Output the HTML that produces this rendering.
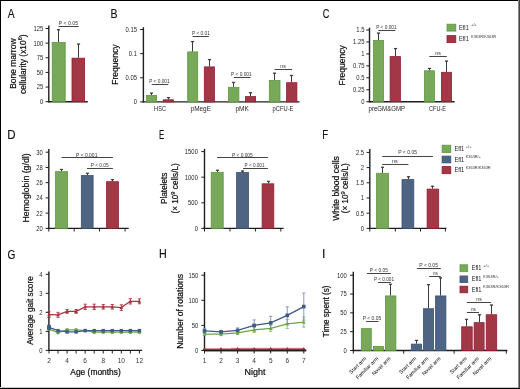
<!DOCTYPE html>
<html><head><meta charset="utf-8"><style>
html,body{margin:0;padding:0;background:#fff;}
body{width:520px;height:389px;overflow:hidden;position:relative;}
svg{display:block;will-change:transform;}
.b{position:absolute;}
</style></head><body>
<svg width="520" height="389" viewBox="0 0 520 389" font-family='"Liberation Sans", sans-serif'>
<rect x="0" y="0" width="520" height="389" fill="#fff"/>
<text transform="translate(7.78 18.00) scale(0.842 1)" font-size="12.2" fill="#111" stroke="#111" stroke-width="0.15">A</text>
<text transform="translate(110.44 18.00) scale(0.864 1)" font-size="12.2" fill="#111" stroke="#111" stroke-width="0.15">B</text>
<text transform="translate(322.63 18.00) scale(0.752 1)" font-size="12.2" fill="#111" stroke="#111" stroke-width="0.15">C</text>
<text transform="translate(7.36 139.10) scale(0.943 1)" font-size="12.2" fill="#111" stroke="#111" stroke-width="0.15">D</text>
<text transform="translate(159.05 139.10) scale(0.651 1)" font-size="12.2" fill="#111" stroke="#111" stroke-width="0.15">E</text>
<text transform="translate(322.31 139.20) scale(0.789 1)" font-size="12.2" fill="#111" stroke="#111" stroke-width="0.15">F</text>
<text transform="translate(7.59 258.50) scale(0.830 1)" font-size="12.2" fill="#111" stroke="#111" stroke-width="0.15">G</text>
<text transform="translate(159.02 258.30) scale(0.881 1)" font-size="12.2" fill="#111" stroke="#111" stroke-width="0.15">H</text>
<text transform="translate(321.98 258.30) scale(1.000 1)" font-size="12.2" fill="#111" stroke="#111" stroke-width="0.15">I</text>
<line x1="48.80" y1="25.40" x2="48.80" y2="102.30" stroke="#1e1e1e" stroke-width="1.4"/>
<line x1="45.60" y1="101.70" x2="48.80" y2="101.70" stroke="#1e1e1e" stroke-width="1"/>
<text x="43.20" y="104.11" font-size="6.7" text-anchor="end" textLength="3.26" lengthAdjust="spacingAndGlyphs" fill="#262626" >0</text>
<line x1="45.60" y1="87.06" x2="48.80" y2="87.06" stroke="#1e1e1e" stroke-width="1"/>
<text x="43.20" y="89.47" font-size="6.7" text-anchor="end" textLength="6.52" lengthAdjust="spacingAndGlyphs" fill="#262626" >25</text>
<line x1="45.60" y1="72.42" x2="48.80" y2="72.42" stroke="#1e1e1e" stroke-width="1"/>
<text x="43.20" y="74.83" font-size="6.7" text-anchor="end" textLength="6.52" lengthAdjust="spacingAndGlyphs" fill="#262626" >50</text>
<line x1="45.60" y1="57.78" x2="48.80" y2="57.78" stroke="#1e1e1e" stroke-width="1"/>
<text x="43.20" y="60.19" font-size="6.7" text-anchor="end" textLength="6.52" lengthAdjust="spacingAndGlyphs" fill="#262626" >75</text>
<line x1="45.60" y1="43.14" x2="48.80" y2="43.14" stroke="#1e1e1e" stroke-width="1"/>
<text x="43.20" y="45.55" font-size="6.7" text-anchor="end" textLength="9.78" lengthAdjust="spacingAndGlyphs" fill="#262626" >100</text>
<line x1="45.60" y1="28.50" x2="48.80" y2="28.50" stroke="#1e1e1e" stroke-width="1"/>
<text x="43.20" y="30.91" font-size="6.7" text-anchor="end" textLength="9.78" lengthAdjust="spacingAndGlyphs" fill="#262626" >125</text>
<line x1="48.10" y1="101.70" x2="87.80" y2="101.70" stroke="#1e1e1e" stroke-width="1.4"/>
<rect x="52.20" y="42.37" width="13.00" height="59.33" fill="#78a85a" stroke="#5e983e" stroke-width="0.8"/>
<line x1="58.50" y1="41.97" x2="58.50" y2="29.67" stroke="#3a3a3a" stroke-width="1.0"/>
<line x1="56.90" y1="29.67" x2="60.10" y2="29.67" stroke="#3a3a3a" stroke-width="1.1"/>
<path d="M57.10 29.67H59.90L58.50 31.17Z" fill="#3a3a3a"/>
<rect x="72.00" y="58.18" width="12.60" height="43.52" fill="#a23846" stroke="#8e1f33" stroke-width="0.8"/>
<line x1="78.50" y1="57.78" x2="78.50" y2="44.02" stroke="#3a3a3a" stroke-width="1.0"/>
<line x1="76.90" y1="44.02" x2="80.10" y2="44.02" stroke="#3a3a3a" stroke-width="1.1"/>
<path d="M77.10 44.02H79.90L78.50 45.52Z" fill="#3a3a3a"/>
<line x1="58.50" y1="26.50" x2="78.60" y2="26.50" stroke="#444" stroke-width="1.0"/>
<text x="58.80" y="25.10" font-size="5.2" textLength="19.30" lengthAdjust="spacingAndGlyphs" fill="#333" >P &lt; 0.05</text>
<text x="15.70" y="88.85" font-size="9.7" textLength="50.40" lengthAdjust="spacingAndGlyphs" transform="rotate(-90 15.70 88.85)" stroke="#222" stroke-width="0.22">Bone marrow</text>
<text x="25.80" y="94.05" font-size="9.7" textLength="59.60" lengthAdjust="spacingAndGlyphs" transform="rotate(-90 25.80 94.05)" stroke="#222" stroke-width="0.22">cellularity (x10<tspan font-size="6.2" dy="-3.4">6</tspan><tspan dy="3.4">)</tspan></text>
<line x1="143.40" y1="27.20" x2="143.40" y2="102.50" stroke="#1e1e1e" stroke-width="1.4"/>
<line x1="140.20" y1="101.90" x2="143.40" y2="101.90" stroke="#1e1e1e" stroke-width="1"/>
<text x="137.00" y="104.31" font-size="6.7" text-anchor="end" textLength="3.26" lengthAdjust="spacingAndGlyphs" fill="#262626" >0</text>
<line x1="140.20" y1="77.77" x2="143.40" y2="77.77" stroke="#1e1e1e" stroke-width="1"/>
<text x="137.00" y="80.18" font-size="6.7" text-anchor="end" textLength="11.41" lengthAdjust="spacingAndGlyphs" fill="#262626" >0.05</text>
<line x1="140.20" y1="53.63" x2="143.40" y2="53.63" stroke="#1e1e1e" stroke-width="1"/>
<text x="137.00" y="56.05" font-size="6.7" text-anchor="end" textLength="8.15" lengthAdjust="spacingAndGlyphs" fill="#262626" >0.1</text>
<line x1="140.20" y1="29.50" x2="143.40" y2="29.50" stroke="#1e1e1e" stroke-width="1"/>
<text x="137.00" y="31.91" font-size="6.7" text-anchor="end" textLength="11.41" lengthAdjust="spacingAndGlyphs" fill="#262626" >0.15</text>
<line x1="142.70" y1="101.90" x2="299.50" y2="101.90" stroke="#1e1e1e" stroke-width="1.4"/>
<rect x="146.60" y="95.40" width="10.00" height="6.50" fill="#78a85a" stroke="#5e983e" stroke-width="0.8"/>
<line x1="151.50" y1="95.00" x2="151.50" y2="93.00" stroke="#3a3a3a" stroke-width="1.0"/>
<line x1="150.00" y1="93.00" x2="153.00" y2="93.00" stroke="#3a3a3a" stroke-width="1.1"/>
<path d="M150.10 93.00H152.90L151.50 94.50Z" fill="#3a3a3a"/>
<rect x="163.20" y="99.80" width="10.30" height="2.10" fill="#a23846" stroke="#8e1f33" stroke-width="0.8"/>
<line x1="168.50" y1="99.40" x2="168.50" y2="97.60" stroke="#3a3a3a" stroke-width="1.0"/>
<line x1="166.90" y1="97.60" x2="170.10" y2="97.60" stroke="#3a3a3a" stroke-width="1.1"/>
<path d="M167.10 97.60H169.90L168.50 99.10Z" fill="#3a3a3a"/>
<line x1="151.70" y1="84.50" x2="168.30" y2="84.50" stroke="#444" stroke-width="1.0"/>
<text x="149.20" y="83.00" font-size="5.2" textLength="20.50" lengthAdjust="spacingAndGlyphs" fill="#333" >P &lt; 0.001</text>
<rect x="187.70" y="51.90" width="10.00" height="50.00" fill="#78a85a" stroke="#5e983e" stroke-width="0.8"/>
<line x1="192.50" y1="51.50" x2="192.50" y2="41.60" stroke="#3a3a3a" stroke-width="1.0"/>
<line x1="190.90" y1="41.60" x2="194.10" y2="41.60" stroke="#3a3a3a" stroke-width="1.1"/>
<path d="M191.10 41.60H193.90L192.50 43.10Z" fill="#3a3a3a"/>
<rect x="204.30" y="66.90" width="10.10" height="35.00" fill="#a23846" stroke="#8e1f33" stroke-width="0.8"/>
<line x1="209.50" y1="66.50" x2="209.50" y2="59.60" stroke="#3a3a3a" stroke-width="1.0"/>
<line x1="207.90" y1="59.60" x2="211.10" y2="59.60" stroke="#3a3a3a" stroke-width="1.1"/>
<path d="M208.10 59.60H210.90L209.50 61.10Z" fill="#3a3a3a"/>
<line x1="192.50" y1="36.50" x2="208.90" y2="36.50" stroke="#444" stroke-width="1.0"/>
<text x="192.00" y="35.00" font-size="5.2" textLength="17.90" lengthAdjust="spacingAndGlyphs" fill="#333" >P &lt; 0.01</text>
<rect x="228.40" y="87.30" width="10.50" height="14.60" fill="#78a85a" stroke="#5e983e" stroke-width="0.8"/>
<line x1="233.50" y1="86.90" x2="233.50" y2="82.30" stroke="#3a3a3a" stroke-width="1.0"/>
<line x1="231.90" y1="82.30" x2="235.10" y2="82.30" stroke="#3a3a3a" stroke-width="1.1"/>
<path d="M232.10 82.30H234.90L233.50 83.80Z" fill="#3a3a3a"/>
<rect x="245.50" y="96.60" width="10.10" height="5.30" fill="#a23846" stroke="#8e1f33" stroke-width="0.8"/>
<line x1="250.50" y1="96.20" x2="250.50" y2="92.70" stroke="#3a3a3a" stroke-width="1.0"/>
<line x1="248.90" y1="92.70" x2="252.10" y2="92.70" stroke="#3a3a3a" stroke-width="1.1"/>
<path d="M249.10 92.70H251.90L250.50 94.20Z" fill="#3a3a3a"/>
<line x1="233.80" y1="77.50" x2="250.50" y2="77.50" stroke="#444" stroke-width="1.0"/>
<text x="231.10" y="76.00" font-size="5.2" textLength="20.60" lengthAdjust="spacingAndGlyphs" fill="#333" >P &lt; 0.001</text>
<rect x="269.30" y="80.40" width="10.70" height="21.50" fill="#78a85a" stroke="#5e983e" stroke-width="0.8"/>
<line x1="274.50" y1="80.00" x2="274.50" y2="73.10" stroke="#3a3a3a" stroke-width="1.0"/>
<line x1="272.90" y1="73.10" x2="276.10" y2="73.10" stroke="#3a3a3a" stroke-width="1.1"/>
<path d="M273.10 73.10H275.90L274.50 74.60Z" fill="#3a3a3a"/>
<rect x="286.60" y="82.70" width="10.30" height="19.20" fill="#a23846" stroke="#8e1f33" stroke-width="0.8"/>
<line x1="291.50" y1="82.30" x2="291.50" y2="75.40" stroke="#3a3a3a" stroke-width="1.0"/>
<line x1="289.90" y1="75.40" x2="293.10" y2="75.40" stroke="#3a3a3a" stroke-width="1.1"/>
<path d="M290.10 75.40H292.90L291.50 76.90Z" fill="#3a3a3a"/>
<line x1="274.50" y1="69.50" x2="292.00" y2="69.50" stroke="#444" stroke-width="1.0"/>
<text x="280.20" y="68.30" font-size="5.2" textLength="5.60" lengthAdjust="spacingAndGlyphs" fill="#333" >ns</text>
<text x="154.10" y="111.30" font-size="7.0" textLength="11.90" lengthAdjust="spacingAndGlyphs" fill="#1e1e1e" >HSC</text>
<text x="190.60" y="111.30" font-size="7.0" textLength="20.40" lengthAdjust="spacingAndGlyphs" fill="#1e1e1e" >pMegE</text>
<text x="235.50" y="111.30" font-size="7.0" textLength="13.40" lengthAdjust="spacingAndGlyphs" fill="#1e1e1e" >pMK</text>
<text x="272.60" y="111.30" font-size="7.0" textLength="20.80" lengthAdjust="spacingAndGlyphs" fill="#1e1e1e" >pCFU-E</text>
<text x="118.30" y="84.75" font-size="9.6" textLength="40.30" lengthAdjust="spacingAndGlyphs" transform="rotate(-90 118.30 84.75)" stroke="#222" stroke-width="0.22">Frequency</text>
<line x1="369.50" y1="27.70" x2="369.50" y2="102.30" stroke="#1e1e1e" stroke-width="1.4"/>
<line x1="366.30" y1="101.70" x2="369.50" y2="101.70" stroke="#1e1e1e" stroke-width="1"/>
<text x="364.50" y="104.11" font-size="6.7" text-anchor="end" textLength="3.26" lengthAdjust="spacingAndGlyphs" fill="#262626" >0</text>
<line x1="366.30" y1="89.75" x2="369.50" y2="89.75" stroke="#1e1e1e" stroke-width="1"/>
<text x="364.50" y="92.16" font-size="6.7" text-anchor="end" textLength="11.41" lengthAdjust="spacingAndGlyphs" fill="#262626" >0.25</text>
<line x1="366.30" y1="77.80" x2="369.50" y2="77.80" stroke="#1e1e1e" stroke-width="1"/>
<text x="364.50" y="80.21" font-size="6.7" text-anchor="end" textLength="8.15" lengthAdjust="spacingAndGlyphs" fill="#262626" >0.5</text>
<line x1="366.30" y1="65.85" x2="369.50" y2="65.85" stroke="#1e1e1e" stroke-width="1"/>
<text x="364.50" y="68.26" font-size="6.7" text-anchor="end" textLength="11.41" lengthAdjust="spacingAndGlyphs" fill="#262626" >0.75</text>
<line x1="366.30" y1="53.90" x2="369.50" y2="53.90" stroke="#1e1e1e" stroke-width="1"/>
<text x="364.50" y="56.31" font-size="6.7" text-anchor="end" textLength="3.26" lengthAdjust="spacingAndGlyphs" fill="#262626" >1</text>
<line x1="366.30" y1="41.95" x2="369.50" y2="41.95" stroke="#1e1e1e" stroke-width="1"/>
<text x="364.50" y="44.36" font-size="6.7" text-anchor="end" textLength="11.41" lengthAdjust="spacingAndGlyphs" fill="#262626" >1.25</text>
<line x1="366.30" y1="30.00" x2="369.50" y2="30.00" stroke="#1e1e1e" stroke-width="1"/>
<text x="364.50" y="32.41" font-size="6.7" text-anchor="end" textLength="8.15" lengthAdjust="spacingAndGlyphs" fill="#262626" >1.5</text>
<line x1="368.80" y1="101.70" x2="454.60" y2="101.70" stroke="#1e1e1e" stroke-width="1.4"/>
<rect x="373.50" y="40.40" width="10.10" height="61.30" fill="#78a85a" stroke="#5e983e" stroke-width="0.8"/>
<line x1="378.50" y1="40.00" x2="378.50" y2="33.00" stroke="#3a3a3a" stroke-width="1.0"/>
<line x1="376.90" y1="33.00" x2="380.10" y2="33.00" stroke="#3a3a3a" stroke-width="1.1"/>
<path d="M377.10 33.00H379.90L378.50 34.50Z" fill="#3a3a3a"/>
<rect x="390.10" y="56.60" width="10.30" height="45.10" fill="#a23846" stroke="#8e1f33" stroke-width="0.8"/>
<line x1="395.50" y1="56.20" x2="395.50" y2="48.50" stroke="#3a3a3a" stroke-width="1.0"/>
<line x1="393.90" y1="48.50" x2="397.10" y2="48.50" stroke="#3a3a3a" stroke-width="1.1"/>
<path d="M394.10 48.50H396.90L395.50 50.00Z" fill="#3a3a3a"/>
<line x1="378.30" y1="30.50" x2="395.30" y2="30.50" stroke="#444" stroke-width="1.0"/>
<text x="376.20" y="28.50" font-size="5.2" textLength="20.50" lengthAdjust="spacingAndGlyphs" fill="#333" >P &lt; 0.001</text>
<rect x="424.40" y="70.80" width="10.00" height="30.90" fill="#78a85a" stroke="#5e983e" stroke-width="0.8"/>
<line x1="429.50" y1="70.40" x2="429.50" y2="68.40" stroke="#3a3a3a" stroke-width="1.0"/>
<line x1="427.90" y1="68.40" x2="431.10" y2="68.40" stroke="#3a3a3a" stroke-width="1.1"/>
<path d="M428.10 68.40H430.90L429.50 69.90Z" fill="#3a3a3a"/>
<rect x="441.40" y="72.30" width="10.10" height="29.40" fill="#a23846" stroke="#8e1f33" stroke-width="0.8"/>
<line x1="446.50" y1="71.90" x2="446.50" y2="61.00" stroke="#3a3a3a" stroke-width="1.0"/>
<line x1="444.90" y1="61.00" x2="448.10" y2="61.00" stroke="#3a3a3a" stroke-width="1.1"/>
<path d="M445.10 61.00H447.90L446.50 62.50Z" fill="#3a3a3a"/>
<line x1="429.30" y1="56.50" x2="446.80" y2="56.50" stroke="#444" stroke-width="1.0"/>
<text x="435.20" y="55.10" font-size="5.2" textLength="5.60" lengthAdjust="spacingAndGlyphs" fill="#333" >ns</text>
<text x="368.50" y="111.30" font-size="7.0" textLength="36.60" lengthAdjust="spacingAndGlyphs" fill="#1e1e1e" >preGM&amp;GMP</text>
<text x="429.00" y="111.30" font-size="7.0" textLength="17.00" lengthAdjust="spacingAndGlyphs" fill="#1e1e1e" >CFU-E</text>
<text x="345.40" y="85.45" font-size="9.6" textLength="40.20" lengthAdjust="spacingAndGlyphs" transform="rotate(-90 345.40 85.45)" stroke="#222" stroke-width="0.22">Frequency</text>
<rect x="447.00" y="24.20" width="8.80" height="6.90" fill="#78a85a" stroke="#5e983e" stroke-width="0.8"/>
<text x="459.00" y="29.50" font-size="7.0" textLength="9.80" lengthAdjust="spacingAndGlyphs" fill="#1a1a1a" >Efl1</text>
<text x="471.00" y="26.30" font-size="4.4" textLength="6.00" lengthAdjust="spacingAndGlyphs" fill="#3a3a3a" >+/+</text>
<rect x="447.00" y="35.60" width="8.80" height="7.00" fill="#a23846" stroke="#8e1f33" stroke-width="0.8"/>
<text x="459.00" y="40.60" font-size="7.0" textLength="9.80" lengthAdjust="spacingAndGlyphs" fill="#1a1a1a" >Efl1</text>
<text x="471.00" y="37.70" font-size="4.4" textLength="25.20" lengthAdjust="spacingAndGlyphs" fill="#3a3a3a" >K363R/K363R</text>
<line x1="48.80" y1="148.90" x2="48.80" y2="229.00" stroke="#1e1e1e" stroke-width="1.4"/>
<line x1="45.60" y1="228.40" x2="48.80" y2="228.40" stroke="#1e1e1e" stroke-width="1"/>
<text x="42.80" y="230.81" font-size="6.7" text-anchor="end" textLength="6.52" lengthAdjust="spacingAndGlyphs" fill="#262626" >20</text>
<line x1="45.60" y1="213.16" x2="48.80" y2="213.16" stroke="#1e1e1e" stroke-width="1"/>
<text x="42.80" y="215.57" font-size="6.7" text-anchor="end" textLength="6.52" lengthAdjust="spacingAndGlyphs" fill="#262626" >22</text>
<line x1="45.60" y1="197.92" x2="48.80" y2="197.92" stroke="#1e1e1e" stroke-width="1"/>
<text x="42.80" y="200.33" font-size="6.7" text-anchor="end" textLength="6.52" lengthAdjust="spacingAndGlyphs" fill="#262626" >24</text>
<line x1="45.60" y1="182.68" x2="48.80" y2="182.68" stroke="#1e1e1e" stroke-width="1"/>
<text x="42.80" y="185.09" font-size="6.7" text-anchor="end" textLength="6.52" lengthAdjust="spacingAndGlyphs" fill="#262626" >26</text>
<line x1="45.60" y1="167.44" x2="48.80" y2="167.44" stroke="#1e1e1e" stroke-width="1"/>
<text x="42.80" y="169.85" font-size="6.7" text-anchor="end" textLength="6.52" lengthAdjust="spacingAndGlyphs" fill="#262626" >28</text>
<line x1="45.60" y1="152.20" x2="48.80" y2="152.20" stroke="#1e1e1e" stroke-width="1"/>
<text x="42.80" y="154.61" font-size="6.7" text-anchor="end" textLength="6.52" lengthAdjust="spacingAndGlyphs" fill="#262626" >30</text>
<line x1="47.70" y1="228.40" x2="128.70" y2="228.40" stroke="#1e1e1e" stroke-width="1.4"/>
<line x1="48.80" y1="228.40" x2="48.80" y2="231.50" stroke="#1e1e1e" stroke-width="1.0"/>
<line x1="74.20" y1="228.40" x2="74.20" y2="231.50" stroke="#1e1e1e" stroke-width="1.0"/>
<line x1="99.60" y1="228.40" x2="99.60" y2="231.50" stroke="#1e1e1e" stroke-width="1.0"/>
<line x1="125.10" y1="228.40" x2="125.10" y2="231.50" stroke="#1e1e1e" stroke-width="1.0"/>
<rect x="55.50" y="171.70" width="12.10" height="56.70" fill="#78a85a" stroke="#5e983e" stroke-width="0.8"/>
<line x1="61.50" y1="171.30" x2="61.50" y2="169.40" stroke="#3a3a3a" stroke-width="1.0"/>
<line x1="59.90" y1="169.40" x2="63.10" y2="169.40" stroke="#3a3a3a" stroke-width="1.1"/>
<path d="M60.10 169.40H62.90L61.50 170.90Z" fill="#3a3a3a"/>
<rect x="81.30" y="175.50" width="11.80" height="52.90" fill="#4f6382" stroke="#3b5274" stroke-width="0.8"/>
<line x1="87.50" y1="175.10" x2="87.50" y2="173.20" stroke="#3a3a3a" stroke-width="1.0"/>
<line x1="85.90" y1="173.20" x2="89.10" y2="173.20" stroke="#3a3a3a" stroke-width="1.1"/>
<path d="M86.10 173.20H88.90L87.50 174.70Z" fill="#3a3a3a"/>
<rect x="106.60" y="181.70" width="11.80" height="46.70" fill="#a23846" stroke="#8e1f33" stroke-width="0.8"/>
<line x1="112.50" y1="181.30" x2="112.50" y2="179.60" stroke="#3a3a3a" stroke-width="1.0"/>
<line x1="110.90" y1="179.60" x2="114.10" y2="179.60" stroke="#3a3a3a" stroke-width="1.1"/>
<path d="M111.10 179.60H113.90L112.50 181.10Z" fill="#3a3a3a"/>
<line x1="61.60" y1="157.50" x2="112.90" y2="157.50" stroke="#444" stroke-width="1.0"/>
<text x="76.10" y="156.80" font-size="5.2" textLength="21.30" lengthAdjust="spacingAndGlyphs" fill="#333" >P &lt; 0.001</text>
<line x1="87.00" y1="168.50" x2="112.90" y2="168.50" stroke="#444" stroke-width="1.0"/>
<text x="90.70" y="167.10" font-size="5.2" textLength="18.00" lengthAdjust="spacingAndGlyphs" fill="#333" >P &lt; 0.05</text>
<line x1="204.50" y1="148.90" x2="204.50" y2="229.00" stroke="#1e1e1e" stroke-width="1.4"/>
<line x1="201.30" y1="228.40" x2="204.50" y2="228.40" stroke="#1e1e1e" stroke-width="1"/>
<text x="197.90" y="230.81" font-size="6.7" text-anchor="end" textLength="3.26" lengthAdjust="spacingAndGlyphs" fill="#262626" >0</text>
<line x1="201.30" y1="202.80" x2="204.50" y2="202.80" stroke="#1e1e1e" stroke-width="1"/>
<text x="197.90" y="205.21" font-size="6.7" text-anchor="end" textLength="9.78" lengthAdjust="spacingAndGlyphs" fill="#262626" >500</text>
<line x1="201.30" y1="177.20" x2="204.50" y2="177.20" stroke="#1e1e1e" stroke-width="1"/>
<text x="197.90" y="179.61" font-size="6.7" text-anchor="end" textLength="13.04" lengthAdjust="spacingAndGlyphs" fill="#262626" >1000</text>
<line x1="201.30" y1="151.60" x2="204.50" y2="151.60" stroke="#1e1e1e" stroke-width="1"/>
<text x="197.90" y="154.01" font-size="6.7" text-anchor="end" textLength="13.04" lengthAdjust="spacingAndGlyphs" fill="#262626" >1500</text>
<line x1="202.90" y1="228.40" x2="283.60" y2="228.40" stroke="#1e1e1e" stroke-width="1.4"/>
<line x1="204.50" y1="228.40" x2="204.50" y2="231.50" stroke="#1e1e1e" stroke-width="1.0"/>
<line x1="230.00" y1="228.40" x2="230.00" y2="231.50" stroke="#1e1e1e" stroke-width="1.0"/>
<line x1="255.40" y1="228.40" x2="255.40" y2="231.50" stroke="#1e1e1e" stroke-width="1.0"/>
<line x1="280.80" y1="228.40" x2="280.80" y2="231.50" stroke="#1e1e1e" stroke-width="1.0"/>
<rect x="211.20" y="172.30" width="12.00" height="56.10" fill="#78a85a" stroke="#5e983e" stroke-width="0.8"/>
<line x1="217.50" y1="171.90" x2="217.50" y2="170.20" stroke="#3a3a3a" stroke-width="1.0"/>
<line x1="215.90" y1="170.20" x2="219.10" y2="170.20" stroke="#3a3a3a" stroke-width="1.1"/>
<path d="M216.10 170.20H218.90L217.50 171.70Z" fill="#3a3a3a"/>
<rect x="236.60" y="172.50" width="11.90" height="55.90" fill="#4f6382" stroke="#3b5274" stroke-width="0.8"/>
<line x1="242.50" y1="172.10" x2="242.50" y2="170.90" stroke="#3a3a3a" stroke-width="1.0"/>
<line x1="240.90" y1="170.90" x2="244.10" y2="170.90" stroke="#3a3a3a" stroke-width="1.1"/>
<path d="M241.10 170.90H243.90L242.50 172.40Z" fill="#3a3a3a"/>
<rect x="262.10" y="183.80" width="11.70" height="44.60" fill="#a23846" stroke="#8e1f33" stroke-width="0.8"/>
<line x1="268.50" y1="183.40" x2="268.50" y2="181.30" stroke="#3a3a3a" stroke-width="1.0"/>
<line x1="266.90" y1="181.30" x2="270.10" y2="181.30" stroke="#3a3a3a" stroke-width="1.1"/>
<path d="M267.10 181.30H269.90L268.50 182.80Z" fill="#3a3a3a"/>
<line x1="217.10" y1="157.50" x2="267.90" y2="157.50" stroke="#444" stroke-width="1.0"/>
<text x="232.10" y="156.80" font-size="5.2" textLength="20.60" lengthAdjust="spacingAndGlyphs" fill="#333" >P &lt; 0.005</text>
<line x1="243.00" y1="168.50" x2="267.90" y2="168.50" stroke="#444" stroke-width="1.0"/>
<text x="244.60" y="166.90" font-size="5.2" textLength="19.90" lengthAdjust="spacingAndGlyphs" fill="#333" >P &lt; 0.001</text>
<line x1="369.80" y1="148.90" x2="369.80" y2="229.00" stroke="#1e1e1e" stroke-width="1.4"/>
<line x1="366.60" y1="228.40" x2="369.80" y2="228.40" stroke="#1e1e1e" stroke-width="1"/>
<text x="364.10" y="230.81" font-size="6.7" text-anchor="end" textLength="3.26" lengthAdjust="spacingAndGlyphs" fill="#262626" >0</text>
<line x1="366.60" y1="213.20" x2="369.80" y2="213.20" stroke="#1e1e1e" stroke-width="1"/>
<text x="364.10" y="215.61" font-size="6.7" text-anchor="end" textLength="8.15" lengthAdjust="spacingAndGlyphs" fill="#262626" >0.5</text>
<line x1="366.60" y1="198.00" x2="369.80" y2="198.00" stroke="#1e1e1e" stroke-width="1"/>
<text x="364.10" y="200.41" font-size="6.7" text-anchor="end" textLength="3.26" lengthAdjust="spacingAndGlyphs" fill="#262626" >1</text>
<line x1="366.60" y1="182.80" x2="369.80" y2="182.80" stroke="#1e1e1e" stroke-width="1"/>
<text x="364.10" y="185.21" font-size="6.7" text-anchor="end" textLength="8.15" lengthAdjust="spacingAndGlyphs" fill="#262626" >1.5</text>
<line x1="366.60" y1="167.60" x2="369.80" y2="167.60" stroke="#1e1e1e" stroke-width="1"/>
<text x="364.10" y="170.01" font-size="6.7" text-anchor="end" textLength="3.26" lengthAdjust="spacingAndGlyphs" fill="#262626" >2</text>
<line x1="366.60" y1="152.40" x2="369.80" y2="152.40" stroke="#1e1e1e" stroke-width="1"/>
<text x="364.10" y="154.81" font-size="6.7" text-anchor="end" textLength="8.15" lengthAdjust="spacingAndGlyphs" fill="#262626" >2.5</text>
<line x1="369.20" y1="228.40" x2="446.50" y2="228.40" stroke="#1e1e1e" stroke-width="1.4"/>
<line x1="369.80" y1="228.40" x2="369.80" y2="231.50" stroke="#1e1e1e" stroke-width="1.0"/>
<line x1="395.30" y1="228.40" x2="395.30" y2="231.50" stroke="#1e1e1e" stroke-width="1.0"/>
<line x1="420.50" y1="228.40" x2="420.50" y2="231.50" stroke="#1e1e1e" stroke-width="1.0"/>
<line x1="445.40" y1="228.40" x2="445.40" y2="231.50" stroke="#1e1e1e" stroke-width="1.0"/>
<rect x="376.60" y="173.30" width="11.90" height="55.10" fill="#78a85a" stroke="#5e983e" stroke-width="0.8"/>
<line x1="382.50" y1="172.90" x2="382.50" y2="167.20" stroke="#3a3a3a" stroke-width="1.0"/>
<line x1="381.00" y1="167.20" x2="384.00" y2="167.20" stroke="#3a3a3a" stroke-width="1.1"/>
<path d="M381.10 167.20H383.90L382.50 168.70Z" fill="#3a3a3a"/>
<rect x="402.00" y="179.60" width="11.80" height="48.80" fill="#4f6382" stroke="#3b5274" stroke-width="0.8"/>
<line x1="408.50" y1="179.20" x2="408.50" y2="176.70" stroke="#3a3a3a" stroke-width="1.0"/>
<line x1="406.90" y1="176.70" x2="410.10" y2="176.70" stroke="#3a3a3a" stroke-width="1.1"/>
<path d="M407.10 176.70H409.90L408.50 178.20Z" fill="#3a3a3a"/>
<rect x="427.10" y="189.10" width="11.60" height="39.30" fill="#a23846" stroke="#8e1f33" stroke-width="0.8"/>
<line x1="432.50" y1="188.70" x2="432.50" y2="186.20" stroke="#3a3a3a" stroke-width="1.0"/>
<line x1="430.90" y1="186.20" x2="434.10" y2="186.20" stroke="#3a3a3a" stroke-width="1.1"/>
<path d="M431.10 186.20H433.90L432.50 187.70Z" fill="#3a3a3a"/>
<line x1="382.30" y1="156.50" x2="432.90" y2="156.50" stroke="#444" stroke-width="1.0"/>
<text x="398.20" y="154.40" font-size="5.2" textLength="18.80" lengthAdjust="spacingAndGlyphs" fill="#333" >P &lt; 0.05</text>
<line x1="382.30" y1="164.50" x2="408.40" y2="164.50" stroke="#444" stroke-width="1.0"/>
<text x="392.10" y="163.40" font-size="5.2" textLength="5.70" lengthAdjust="spacingAndGlyphs" fill="#333" >ns</text>
<rect x="442.10" y="145.20" width="8.70" height="7.30" fill="#78a85a" stroke="#5e983e" stroke-width="0.8"/>
<text x="454.40" y="150.90" font-size="7.0" textLength="9.80" lengthAdjust="spacingAndGlyphs" fill="#1a1a1a" >Efl1</text>
<text x="465.70" y="147.70" font-size="4.4" textLength="6.00" lengthAdjust="spacingAndGlyphs" fill="#3a3a3a" >+/+</text>
<rect x="442.10" y="156.10" width="8.70" height="6.80" fill="#4f6382" stroke="#3b5274" stroke-width="0.8"/>
<text x="454.40" y="161.60" font-size="7.0" textLength="9.80" lengthAdjust="spacingAndGlyphs" fill="#1a1a1a" >Efl1</text>
<text x="465.70" y="158.40" font-size="4.4" textLength="15.30" lengthAdjust="spacingAndGlyphs" fill="#3a3a3a" >K363R/+</text>
<rect x="442.10" y="166.60" width="8.70" height="7.10" fill="#a23846" stroke="#8e1f33" stroke-width="0.8"/>
<text x="454.40" y="172.00" font-size="7.0" textLength="9.80" lengthAdjust="spacingAndGlyphs" fill="#1a1a1a" >Efl1</text>
<text x="465.70" y="168.70" font-size="4.4" textLength="25.00" lengthAdjust="spacingAndGlyphs" fill="#3a3a3a" >K363R/K363R</text>
<line x1="48.90" y1="271.60" x2="48.90" y2="351.00" stroke="#1e1e1e" stroke-width="1.4"/>
<line x1="45.70" y1="350.40" x2="48.90" y2="350.40" stroke="#1e1e1e" stroke-width="1"/>
<text x="42.50" y="352.81" font-size="6.7" text-anchor="end" textLength="3.26" lengthAdjust="spacingAndGlyphs" fill="#262626" >0</text>
<line x1="45.70" y1="331.38" x2="48.90" y2="331.38" stroke="#1e1e1e" stroke-width="1"/>
<text x="42.50" y="333.79" font-size="6.7" text-anchor="end" textLength="3.26" lengthAdjust="spacingAndGlyphs" fill="#262626" >1</text>
<line x1="45.70" y1="312.36" x2="48.90" y2="312.36" stroke="#1e1e1e" stroke-width="1"/>
<text x="42.50" y="314.77" font-size="6.7" text-anchor="end" textLength="3.26" lengthAdjust="spacingAndGlyphs" fill="#262626" >2</text>
<line x1="45.70" y1="293.34" x2="48.90" y2="293.34" stroke="#1e1e1e" stroke-width="1"/>
<text x="42.50" y="295.75" font-size="6.7" text-anchor="end" textLength="3.26" lengthAdjust="spacingAndGlyphs" fill="#262626" >3</text>
<line x1="45.70" y1="274.32" x2="48.90" y2="274.32" stroke="#1e1e1e" stroke-width="1"/>
<text x="42.50" y="276.73" font-size="6.7" text-anchor="end" textLength="3.26" lengthAdjust="spacingAndGlyphs" fill="#262626" >4</text>
<line x1="48.60" y1="350.40" x2="142.20" y2="350.40" stroke="#1e1e1e" stroke-width="1.4"/>
<line x1="49.00" y1="350.40" x2="49.00" y2="353.50" stroke="#1e1e1e" stroke-width="1.0"/>
<line x1="58.04" y1="350.40" x2="58.04" y2="353.50" stroke="#1e1e1e" stroke-width="1.0"/>
<line x1="67.08" y1="350.40" x2="67.08" y2="353.50" stroke="#1e1e1e" stroke-width="1.0"/>
<line x1="76.12" y1="350.40" x2="76.12" y2="353.50" stroke="#1e1e1e" stroke-width="1.0"/>
<line x1="85.16" y1="350.40" x2="85.16" y2="353.50" stroke="#1e1e1e" stroke-width="1.0"/>
<line x1="94.20" y1="350.40" x2="94.20" y2="353.50" stroke="#1e1e1e" stroke-width="1.0"/>
<line x1="103.24" y1="350.40" x2="103.24" y2="353.50" stroke="#1e1e1e" stroke-width="1.0"/>
<line x1="112.28" y1="350.40" x2="112.28" y2="353.50" stroke="#1e1e1e" stroke-width="1.0"/>
<line x1="121.32" y1="350.40" x2="121.32" y2="353.50" stroke="#1e1e1e" stroke-width="1.0"/>
<line x1="130.36" y1="350.40" x2="130.36" y2="353.50" stroke="#1e1e1e" stroke-width="1.0"/>
<line x1="139.40" y1="350.40" x2="139.40" y2="353.50" stroke="#1e1e1e" stroke-width="1.0"/>
<text x="49.00" y="362.50" font-size="6.5" text-anchor="middle" fill="#333" >2</text>
<text x="67.08" y="362.50" font-size="6.5" text-anchor="middle" fill="#333" >4</text>
<text x="85.16" y="362.50" font-size="6.5" text-anchor="middle" fill="#333" >6</text>
<text x="103.24" y="362.50" font-size="6.5" text-anchor="middle" fill="#333" >8</text>
<text x="121.32" y="362.50" font-size="6.5" text-anchor="middle" fill="#333" >10</text>
<text x="139.40" y="362.50" font-size="6.5" text-anchor="middle" fill="#333" >12</text>
<line x1="204.50" y1="272.00" x2="204.50" y2="351.10" stroke="#1e1e1e" stroke-width="1.4"/>
<line x1="201.30" y1="350.50" x2="204.50" y2="350.50" stroke="#1e1e1e" stroke-width="1"/>
<text x="198.30" y="352.91" font-size="6.7" text-anchor="end" textLength="3.26" lengthAdjust="spacingAndGlyphs" fill="#262626" >0</text>
<line x1="201.30" y1="325.40" x2="204.50" y2="325.40" stroke="#1e1e1e" stroke-width="1"/>
<text x="198.30" y="327.81" font-size="6.7" text-anchor="end" textLength="6.52" lengthAdjust="spacingAndGlyphs" fill="#262626" >50</text>
<line x1="201.30" y1="300.30" x2="204.50" y2="300.30" stroke="#1e1e1e" stroke-width="1"/>
<text x="198.30" y="302.71" font-size="6.7" text-anchor="end" textLength="9.78" lengthAdjust="spacingAndGlyphs" fill="#262626" >100</text>
<line x1="201.30" y1="275.20" x2="204.50" y2="275.20" stroke="#1e1e1e" stroke-width="1"/>
<text x="198.30" y="277.61" font-size="6.7" text-anchor="end" textLength="9.78" lengthAdjust="spacingAndGlyphs" fill="#262626" >150</text>
<line x1="204.00" y1="350.50" x2="306.20" y2="350.50" stroke="#1e1e1e" stroke-width="1.4"/>
<line x1="204.50" y1="350.50" x2="204.50" y2="353.50" stroke="#1e1e1e" stroke-width="1.0"/>
<text x="204.50" y="362.50" font-size="6.5" text-anchor="middle" fill="#333" >1</text>
<line x1="221.05" y1="350.50" x2="221.05" y2="353.50" stroke="#1e1e1e" stroke-width="1.0"/>
<text x="221.05" y="362.50" font-size="6.5" text-anchor="middle" fill="#333" >2</text>
<line x1="237.60" y1="350.50" x2="237.60" y2="353.50" stroke="#1e1e1e" stroke-width="1.0"/>
<text x="237.60" y="362.50" font-size="6.5" text-anchor="middle" fill="#333" >3</text>
<line x1="254.15" y1="350.50" x2="254.15" y2="353.50" stroke="#1e1e1e" stroke-width="1.0"/>
<text x="254.15" y="362.50" font-size="6.5" text-anchor="middle" fill="#333" >4</text>
<line x1="270.70" y1="350.50" x2="270.70" y2="353.50" stroke="#1e1e1e" stroke-width="1.0"/>
<text x="270.70" y="362.50" font-size="6.5" text-anchor="middle" fill="#333" >5</text>
<line x1="287.25" y1="350.50" x2="287.25" y2="353.50" stroke="#1e1e1e" stroke-width="1.0"/>
<text x="287.25" y="362.50" font-size="6.5" text-anchor="middle" fill="#333" >6</text>
<line x1="303.80" y1="350.50" x2="303.80" y2="353.50" stroke="#1e1e1e" stroke-width="1.0"/>
<text x="303.80" y="362.50" font-size="6.5" text-anchor="middle" fill="#333" >7</text>
<line x1="353.30" y1="271.70" x2="353.30" y2="351.10" stroke="#1e1e1e" stroke-width="1.4"/>
<line x1="350.10" y1="350.50" x2="353.30" y2="350.50" stroke="#1e1e1e" stroke-width="1"/>
<text x="346.80" y="352.91" font-size="6.7" text-anchor="end" textLength="3.26" lengthAdjust="spacingAndGlyphs" fill="#262626" >0</text>
<line x1="350.10" y1="331.68" x2="353.30" y2="331.68" stroke="#1e1e1e" stroke-width="1"/>
<text x="346.80" y="334.09" font-size="6.7" text-anchor="end" textLength="6.52" lengthAdjust="spacingAndGlyphs" fill="#262626" >25</text>
<line x1="350.10" y1="312.85" x2="353.30" y2="312.85" stroke="#1e1e1e" stroke-width="1"/>
<text x="346.80" y="315.26" font-size="6.7" text-anchor="end" textLength="6.52" lengthAdjust="spacingAndGlyphs" fill="#262626" >50</text>
<line x1="350.10" y1="294.02" x2="353.30" y2="294.02" stroke="#1e1e1e" stroke-width="1"/>
<text x="346.80" y="296.44" font-size="6.7" text-anchor="end" textLength="6.52" lengthAdjust="spacingAndGlyphs" fill="#262626" >75</text>
<line x1="350.10" y1="275.20" x2="353.30" y2="275.20" stroke="#1e1e1e" stroke-width="1"/>
<text x="346.80" y="277.61" font-size="6.7" text-anchor="end" textLength="9.78" lengthAdjust="spacingAndGlyphs" fill="#262626" >100</text>
<line x1="352.60" y1="350.50" x2="507.40" y2="350.50" stroke="#1e1e1e" stroke-width="1.4"/>
<line x1="353.30" y1="350.50" x2="353.30" y2="353.60" stroke="#1e1e1e" stroke-width="1.0"/>
<line x1="403.70" y1="350.50" x2="403.70" y2="353.60" stroke="#1e1e1e" stroke-width="1.0"/>
<line x1="454.10" y1="350.50" x2="454.10" y2="353.60" stroke="#1e1e1e" stroke-width="1.0"/>
<line x1="506.30" y1="350.50" x2="506.30" y2="353.60" stroke="#1e1e1e" stroke-width="1.0"/>
<text x="28.60" y="222.45" font-size="8.6" textLength="69.10" lengthAdjust="spacingAndGlyphs" transform="rotate(-90 28.60 222.45)" stroke="#222" stroke-width="0.22">Hemoglobin (g/dl)</text>
<text x="167.40" y="203.95" font-size="8.6" textLength="31.40" lengthAdjust="spacingAndGlyphs" transform="rotate(-90 167.40 203.95)" stroke="#222" stroke-width="0.22">Platelets</text>
<text x="177.90" y="213.55" font-size="8.6" textLength="50.30" lengthAdjust="spacingAndGlyphs" transform="rotate(-90 177.90 213.55)" stroke="#222" stroke-width="0.22">(&#215; 10<tspan font-size="6.0" dy="-3.3">9</tspan><tspan dy="3.3"> cells/L)</tspan></text>
<text x="338.80" y="220.85" font-size="8.6" textLength="64.70" lengthAdjust="spacingAndGlyphs" transform="rotate(-90 338.80 220.85)" stroke="#222" stroke-width="0.22">White blood cells</text>
<text x="348.30" y="213.25" font-size="8.6" textLength="50.00" lengthAdjust="spacingAndGlyphs" transform="rotate(-90 348.30 213.25)" stroke="#222" stroke-width="0.22">(&#215; 10<tspan font-size="6.0" dy="-3.3">9</tspan><tspan dy="3.3"> cells/L)</tspan></text>
<text x="33.40" y="344.85" font-size="8.6" textLength="68.60" lengthAdjust="spacingAndGlyphs" transform="rotate(-90 33.40 344.85)" stroke="#222" stroke-width="0.22">Average gait score</text>
<text x="182.60" y="348.85" font-size="8.6" textLength="74.90" lengthAdjust="spacingAndGlyphs" transform="rotate(-90 182.60 348.85)" stroke="#222" stroke-width="0.22">Number of rotations</text>
<text x="329.30" y="337.25" font-size="8.6" textLength="51.70" lengthAdjust="spacingAndGlyphs" transform="rotate(-90 329.30 337.25)" stroke="#222" stroke-width="0.22">Time spent (s)</text>
<text x="70.30" y="375.20" font-size="8.6" textLength="50.50" lengthAdjust="spacingAndGlyphs" stroke="#222" stroke-width="0.22">Age (months)</text>
<text x="244.60" y="374.80" font-size="8.6" textLength="20.80" lengthAdjust="spacingAndGlyphs" stroke="#222" stroke-width="0.22">Night</text>
<polyline points="49.00,329.10 58.04,332.52 67.08,329.86 76.12,329.86 85.16,330.62 94.20,332.14 103.24,332.14 112.28,332.14 121.32,332.14 130.36,332.14 139.40,332.14" fill="none" stroke="#6aa845" stroke-width="1.3"/>
<polyline points="49.00,327.39 58.04,330.62 67.08,331.95 76.12,331.95 85.16,330.62 94.20,330.62 103.24,330.62 112.28,330.62 121.32,330.62 130.36,330.62 139.40,330.62" fill="none" stroke="#3d5a88" stroke-width="1.3"/>
<circle cx="49.00" cy="329.10" r="1.9" fill="#6aa845"/>
<circle cx="58.04" cy="332.52" r="1.9" fill="#6aa845"/>
<circle cx="67.08" cy="329.86" r="1.9" fill="#6aa845"/>
<circle cx="76.12" cy="329.86" r="1.9" fill="#6aa845"/>
<circle cx="85.16" cy="330.62" r="1.9" fill="#6aa845"/>
<circle cx="94.20" cy="332.14" r="1.9" fill="#6aa845"/>
<circle cx="103.24" cy="332.14" r="1.9" fill="#6aa845"/>
<circle cx="112.28" cy="332.14" r="1.9" fill="#6aa845"/>
<circle cx="121.32" cy="332.14" r="1.9" fill="#6aa845"/>
<circle cx="130.36" cy="332.14" r="1.9" fill="#6aa845"/>
<circle cx="139.40" cy="332.14" r="1.9" fill="#6aa845"/>
<rect x="47.30" y="325.69" width="3.4" height="3.4" fill="#3d5a88"/>
<rect x="56.34" y="328.92" width="3.4" height="3.4" fill="#3d5a88"/>
<rect x="65.38" y="330.25" width="3.4" height="3.4" fill="#3d5a88"/>
<rect x="74.42" y="330.25" width="3.4" height="3.4" fill="#3d5a88"/>
<rect x="83.46" y="328.92" width="3.4" height="3.4" fill="#3d5a88"/>
<rect x="92.50" y="328.92" width="3.4" height="3.4" fill="#3d5a88"/>
<rect x="101.54" y="328.92" width="3.4" height="3.4" fill="#3d5a88"/>
<rect x="110.58" y="328.92" width="3.4" height="3.4" fill="#3d5a88"/>
<rect x="119.62" y="328.92" width="3.4" height="3.4" fill="#3d5a88"/>
<rect x="128.66" y="328.92" width="3.4" height="3.4" fill="#3d5a88"/>
<rect x="137.70" y="328.92" width="3.4" height="3.4" fill="#3d5a88"/>
<rect x="47.20" y="324.79" width="3.6" height="5.2" fill="#3d5a88"/>
<polyline points="49.00,314.64 58.04,314.83 67.08,311.41 76.12,311.41 85.16,306.84 94.20,306.84 103.24,306.84 112.28,306.84 121.32,307.60 130.36,301.33 139.40,301.33" fill="none" stroke="#a8323f" stroke-width="1.3"/>
<line x1="49.00" y1="311.79" x2="49.00" y2="317.49" stroke="#a8323f" stroke-width="0.9"/>
<line x1="47.40" y1="311.79" x2="50.60" y2="311.79" stroke="#a8323f" stroke-width="0.9"/>
<line x1="47.40" y1="317.49" x2="50.60" y2="317.49" stroke="#a8323f" stroke-width="0.9"/>
<path d="M47.20 316.14L50.80 316.14L49.00 312.84Z" fill="#a8323f"/>
<line x1="58.04" y1="312.36" x2="58.04" y2="317.30" stroke="#a8323f" stroke-width="0.9"/>
<line x1="56.44" y1="312.36" x2="59.64" y2="312.36" stroke="#a8323f" stroke-width="0.9"/>
<line x1="56.44" y1="317.30" x2="59.64" y2="317.30" stroke="#a8323f" stroke-width="0.9"/>
<path d="M56.24 316.33L59.84 316.33L58.04 313.03Z" fill="#a8323f"/>
<line x1="67.08" y1="309.51" x2="67.08" y2="313.31" stroke="#a8323f" stroke-width="0.9"/>
<line x1="65.48" y1="309.51" x2="68.68" y2="309.51" stroke="#a8323f" stroke-width="0.9"/>
<line x1="65.48" y1="313.31" x2="68.68" y2="313.31" stroke="#a8323f" stroke-width="0.9"/>
<path d="M65.28 312.91L68.88 312.91L67.08 309.61Z" fill="#a8323f"/>
<line x1="76.12" y1="309.51" x2="76.12" y2="313.31" stroke="#a8323f" stroke-width="0.9"/>
<line x1="74.52" y1="309.51" x2="77.72" y2="309.51" stroke="#a8323f" stroke-width="0.9"/>
<line x1="74.52" y1="313.31" x2="77.72" y2="313.31" stroke="#a8323f" stroke-width="0.9"/>
<path d="M74.32 312.91L77.92 312.91L76.12 309.61Z" fill="#a8323f"/>
<line x1="85.16" y1="304.18" x2="85.16" y2="309.50" stroke="#a8323f" stroke-width="0.9"/>
<line x1="83.56" y1="304.18" x2="86.76" y2="304.18" stroke="#a8323f" stroke-width="0.9"/>
<line x1="83.56" y1="309.50" x2="86.76" y2="309.50" stroke="#a8323f" stroke-width="0.9"/>
<path d="M83.36 308.34L86.96 308.34L85.16 305.04Z" fill="#a8323f"/>
<line x1="94.20" y1="304.18" x2="94.20" y2="309.50" stroke="#a8323f" stroke-width="0.9"/>
<line x1="92.60" y1="304.18" x2="95.80" y2="304.18" stroke="#a8323f" stroke-width="0.9"/>
<line x1="92.60" y1="309.50" x2="95.80" y2="309.50" stroke="#a8323f" stroke-width="0.9"/>
<path d="M92.40 308.34L96.00 308.34L94.20 305.04Z" fill="#a8323f"/>
<line x1="103.24" y1="304.56" x2="103.24" y2="309.12" stroke="#a8323f" stroke-width="0.9"/>
<line x1="101.64" y1="304.56" x2="104.84" y2="304.56" stroke="#a8323f" stroke-width="0.9"/>
<line x1="101.64" y1="309.12" x2="104.84" y2="309.12" stroke="#a8323f" stroke-width="0.9"/>
<path d="M101.44 308.34L105.04 308.34L103.24 305.04Z" fill="#a8323f"/>
<line x1="112.28" y1="304.56" x2="112.28" y2="309.12" stroke="#a8323f" stroke-width="0.9"/>
<line x1="110.68" y1="304.56" x2="113.88" y2="304.56" stroke="#a8323f" stroke-width="0.9"/>
<line x1="110.68" y1="309.12" x2="113.88" y2="309.12" stroke="#a8323f" stroke-width="0.9"/>
<path d="M110.48 308.34L114.08 308.34L112.28 305.04Z" fill="#a8323f"/>
<line x1="121.32" y1="304.75" x2="121.32" y2="310.45" stroke="#a8323f" stroke-width="0.9"/>
<line x1="119.72" y1="304.75" x2="122.92" y2="304.75" stroke="#a8323f" stroke-width="0.9"/>
<line x1="119.72" y1="310.45" x2="122.92" y2="310.45" stroke="#a8323f" stroke-width="0.9"/>
<path d="M119.52 309.10L123.12 309.10L121.32 305.80Z" fill="#a8323f"/>
<line x1="130.36" y1="298.67" x2="130.36" y2="303.99" stroke="#a8323f" stroke-width="0.9"/>
<line x1="128.76" y1="298.67" x2="131.96" y2="298.67" stroke="#a8323f" stroke-width="0.9"/>
<line x1="128.76" y1="303.99" x2="131.96" y2="303.99" stroke="#a8323f" stroke-width="0.9"/>
<path d="M128.56 302.83L132.16 302.83L130.36 299.53Z" fill="#a8323f"/>
<line x1="139.40" y1="298.86" x2="139.40" y2="303.80" stroke="#a8323f" stroke-width="0.9"/>
<line x1="137.80" y1="298.86" x2="141.00" y2="298.86" stroke="#a8323f" stroke-width="0.9"/>
<line x1="137.80" y1="303.80" x2="141.00" y2="303.80" stroke="#a8323f" stroke-width="0.9"/>
<path d="M137.60 302.83L141.20 302.83L139.40 299.53Z" fill="#a8323f"/>
<line x1="204.50" y1="332.68" x2="204.50" y2="335.69" stroke="#8cbc6c" stroke-width="0.9"/>
<line x1="202.90" y1="332.68" x2="206.10" y2="332.68" stroke="#8cbc6c" stroke-width="0.9"/>
<line x1="202.90" y1="335.69" x2="206.10" y2="335.69" stroke="#8cbc6c" stroke-width="0.9"/>
<line x1="221.05" y1="332.68" x2="221.05" y2="335.69" stroke="#8cbc6c" stroke-width="0.9"/>
<line x1="219.45" y1="332.68" x2="222.65" y2="332.68" stroke="#8cbc6c" stroke-width="0.9"/>
<line x1="219.45" y1="335.69" x2="222.65" y2="335.69" stroke="#8cbc6c" stroke-width="0.9"/>
<line x1="237.60" y1="331.42" x2="237.60" y2="334.44" stroke="#8cbc6c" stroke-width="0.9"/>
<line x1="236.00" y1="331.42" x2="239.20" y2="331.42" stroke="#8cbc6c" stroke-width="0.9"/>
<line x1="236.00" y1="334.44" x2="239.20" y2="334.44" stroke="#8cbc6c" stroke-width="0.9"/>
<line x1="254.15" y1="327.41" x2="254.15" y2="332.43" stroke="#8cbc6c" stroke-width="0.9"/>
<line x1="252.55" y1="327.41" x2="255.75" y2="327.41" stroke="#8cbc6c" stroke-width="0.9"/>
<line x1="252.55" y1="332.43" x2="255.75" y2="332.43" stroke="#8cbc6c" stroke-width="0.9"/>
<line x1="270.70" y1="325.40" x2="270.70" y2="331.42" stroke="#8cbc6c" stroke-width="0.9"/>
<line x1="269.10" y1="325.40" x2="272.30" y2="325.40" stroke="#8cbc6c" stroke-width="0.9"/>
<line x1="269.10" y1="331.42" x2="272.30" y2="331.42" stroke="#8cbc6c" stroke-width="0.9"/>
<line x1="287.25" y1="319.38" x2="287.25" y2="328.41" stroke="#8cbc6c" stroke-width="0.9"/>
<line x1="285.65" y1="319.38" x2="288.85" y2="319.38" stroke="#8cbc6c" stroke-width="0.9"/>
<line x1="285.65" y1="328.41" x2="288.85" y2="328.41" stroke="#8cbc6c" stroke-width="0.9"/>
<line x1="303.80" y1="317.12" x2="303.80" y2="327.16" stroke="#8cbc6c" stroke-width="0.9"/>
<line x1="302.20" y1="317.12" x2="305.40" y2="317.12" stroke="#8cbc6c" stroke-width="0.9"/>
<line x1="302.20" y1="327.16" x2="305.40" y2="327.16" stroke="#8cbc6c" stroke-width="0.9"/>
<line x1="204.50" y1="328.41" x2="204.50" y2="333.43" stroke="#7a8fb0" stroke-width="0.9"/>
<line x1="202.90" y1="328.41" x2="206.10" y2="328.41" stroke="#7a8fb0" stroke-width="0.9"/>
<line x1="202.90" y1="333.43" x2="206.10" y2="333.43" stroke="#7a8fb0" stroke-width="0.9"/>
<line x1="221.05" y1="330.42" x2="221.05" y2="333.43" stroke="#7a8fb0" stroke-width="0.9"/>
<line x1="219.45" y1="330.42" x2="222.65" y2="330.42" stroke="#7a8fb0" stroke-width="0.9"/>
<line x1="219.45" y1="333.43" x2="222.65" y2="333.43" stroke="#7a8fb0" stroke-width="0.9"/>
<line x1="237.60" y1="327.91" x2="237.60" y2="332.93" stroke="#7a8fb0" stroke-width="0.9"/>
<line x1="236.00" y1="327.91" x2="239.20" y2="327.91" stroke="#7a8fb0" stroke-width="0.9"/>
<line x1="236.00" y1="332.93" x2="239.20" y2="332.93" stroke="#7a8fb0" stroke-width="0.9"/>
<line x1="254.15" y1="319.88" x2="254.15" y2="330.92" stroke="#7a8fb0" stroke-width="0.9"/>
<line x1="252.55" y1="319.88" x2="255.75" y2="319.88" stroke="#7a8fb0" stroke-width="0.9"/>
<line x1="252.55" y1="330.92" x2="255.75" y2="330.92" stroke="#7a8fb0" stroke-width="0.9"/>
<line x1="270.70" y1="316.36" x2="270.70" y2="329.42" stroke="#7a8fb0" stroke-width="0.9"/>
<line x1="269.10" y1="316.36" x2="272.30" y2="316.36" stroke="#7a8fb0" stroke-width="0.9"/>
<line x1="269.10" y1="329.42" x2="272.30" y2="329.42" stroke="#7a8fb0" stroke-width="0.9"/>
<line x1="287.25" y1="306.83" x2="287.25" y2="323.89" stroke="#7a8fb0" stroke-width="0.9"/>
<line x1="285.65" y1="306.83" x2="288.85" y2="306.83" stroke="#7a8fb0" stroke-width="0.9"/>
<line x1="285.65" y1="323.89" x2="288.85" y2="323.89" stroke="#7a8fb0" stroke-width="0.9"/>
<line x1="303.80" y1="293.02" x2="303.80" y2="320.13" stroke="#7a8fb0" stroke-width="0.9"/>
<line x1="302.20" y1="293.02" x2="305.40" y2="293.02" stroke="#7a8fb0" stroke-width="0.9"/>
<line x1="302.20" y1="320.13" x2="305.40" y2="320.13" stroke="#7a8fb0" stroke-width="0.9"/>
<polyline points="204.50,334.19 221.05,334.19 237.60,332.93 254.15,329.92 270.70,328.41 287.25,323.89 303.80,322.14" fill="none" stroke="#6aa845" stroke-width="1.3"/>
<polyline points="204.50,330.92 221.05,331.93 237.60,330.42 254.15,325.40 270.70,322.89 287.25,315.36 303.80,306.57" fill="none" stroke="#3d5a88" stroke-width="1.3"/>
<path d="M202.70 335.69L206.30 335.69L204.50 332.38Z" fill="#6aa845"/>
<path d="M219.25 335.69L222.85 335.69L221.05 332.38Z" fill="#6aa845"/>
<path d="M235.80 334.43L239.40 334.43L237.60 331.13Z" fill="#6aa845"/>
<path d="M252.35 331.42L255.95 331.42L254.15 328.12Z" fill="#6aa845"/>
<path d="M268.90 329.91L272.50 329.91L270.70 326.61Z" fill="#6aa845"/>
<path d="M285.45 325.39L289.05 325.39L287.25 322.09Z" fill="#6aa845"/>
<path d="M302.00 323.64L305.60 323.64L303.80 320.34Z" fill="#6aa845"/>
<rect x="202.70" y="329.12" width="3.6" height="3.6" fill="#3d5a88"/>
<rect x="219.25" y="330.13" width="3.6" height="3.6" fill="#3d5a88"/>
<rect x="235.80" y="328.62" width="3.6" height="3.6" fill="#3d5a88"/>
<rect x="252.35" y="323.60" width="3.6" height="3.6" fill="#3d5a88"/>
<rect x="268.90" y="321.09" width="3.6" height="3.6" fill="#3d5a88"/>
<rect x="285.45" y="313.56" width="3.6" height="3.6" fill="#3d5a88"/>
<rect x="302.00" y="304.77" width="3.6" height="3.6" fill="#3d5a88"/>
<rect x="231.00" y="347.80" width="72.80" height="1.10" fill="#d89aa2"/>
<line x1="204.50" y1="349.25" x2="303.80" y2="349.25" stroke="#b53a4a" stroke-width="1.3"/>
<path d="M202.50 350.1L206.50 350.1L204.50 347.0Z" fill="#a8323f"/>
<path d="M219.05 350.1L223.05 350.1L221.05 347.0Z" fill="#a8323f"/>
<path d="M235.60 350.1L239.60 350.1L237.60 347.0Z" fill="#a8323f"/>
<path d="M252.15 350.1L256.15 350.1L254.15 347.0Z" fill="#a8323f"/>
<path d="M268.70 350.1L272.70 350.1L270.70 347.0Z" fill="#a8323f"/>
<path d="M285.25 350.1L289.25 350.1L287.25 347.0Z" fill="#a8323f"/>
<path d="M301.80 350.1L305.80 350.1L303.80 347.0Z" fill="#a8323f"/>
<line x1="204.00" y1="350.50" x2="306.20" y2="350.50" stroke="#1e1e1e" stroke-width="1.4"/>
<rect x="361.30" y="328.61" width="10.00" height="21.89" fill="#78a85a" stroke="#5e983e" stroke-width="0.8"/>
<rect x="373.40" y="346.38" width="10.10" height="4.12" fill="#78a85a" stroke="#5e983e" stroke-width="0.8"/>
<rect x="385.50" y="295.93" width="10.40" height="54.57" fill="#78a85a" stroke="#5e983e" stroke-width="0.8"/>
<line x1="390.50" y1="295.53" x2="390.50" y2="284.24" stroke="#3a3a3a" stroke-width="1.0"/>
<line x1="388.90" y1="284.24" x2="392.10" y2="284.24" stroke="#3a3a3a" stroke-width="1.1"/>
<path d="M389.10 284.24H391.90L390.50 285.74Z" fill="#3a3a3a"/>
<rect x="411.30" y="344.12" width="10.20" height="6.38" fill="#4f6382" stroke="#3b5274" stroke-width="0.8"/>
<line x1="416.50" y1="343.72" x2="416.50" y2="340.33" stroke="#3a3a3a" stroke-width="1.0"/>
<line x1="414.90" y1="340.33" x2="418.10" y2="340.33" stroke="#3a3a3a" stroke-width="1.1"/>
<path d="M415.10 340.33H417.90L416.50 341.83Z" fill="#3a3a3a"/>
<rect x="423.50" y="308.73" width="10.10" height="41.77" fill="#4f6382" stroke="#3b5274" stroke-width="0.8"/>
<line x1="428.50" y1="308.33" x2="428.50" y2="284.61" stroke="#3a3a3a" stroke-width="1.0"/>
<line x1="426.90" y1="284.61" x2="430.10" y2="284.61" stroke="#3a3a3a" stroke-width="1.1"/>
<path d="M427.10 284.61H429.90L428.50 286.11Z" fill="#3a3a3a"/>
<rect x="435.60" y="295.93" width="10.30" height="54.57" fill="#4f6382" stroke="#3b5274" stroke-width="0.8"/>
<line x1="440.50" y1="295.53" x2="440.50" y2="277.84" stroke="#3a3a3a" stroke-width="1.0"/>
<line x1="438.90" y1="277.84" x2="442.10" y2="277.84" stroke="#3a3a3a" stroke-width="1.1"/>
<path d="M439.10 277.84H441.90L440.50 279.34Z" fill="#3a3a3a"/>
<rect x="461.70" y="326.80" width="10.50" height="23.70" fill="#a23846" stroke="#8e1f33" stroke-width="0.8"/>
<line x1="466.50" y1="326.40" x2="466.50" y2="319.25" stroke="#3a3a3a" stroke-width="1.0"/>
<line x1="464.90" y1="319.25" x2="468.10" y2="319.25" stroke="#3a3a3a" stroke-width="1.1"/>
<path d="M465.10 319.25H467.90L466.50 320.75Z" fill="#3a3a3a"/>
<rect x="474.10" y="322.66" width="10.00" height="27.84" fill="#a23846" stroke="#8e1f33" stroke-width="0.8"/>
<line x1="479.50" y1="322.26" x2="479.50" y2="314.73" stroke="#3a3a3a" stroke-width="1.0"/>
<line x1="477.90" y1="314.73" x2="481.10" y2="314.73" stroke="#3a3a3a" stroke-width="1.1"/>
<path d="M478.10 314.73H480.90L479.50 316.23Z" fill="#3a3a3a"/>
<rect x="486.20" y="314.76" width="10.50" height="35.74" fill="#a23846" stroke="#8e1f33" stroke-width="0.8"/>
<line x1="491.50" y1="314.36" x2="491.50" y2="304.94" stroke="#3a3a3a" stroke-width="1.0"/>
<line x1="489.90" y1="304.94" x2="493.10" y2="304.94" stroke="#3a3a3a" stroke-width="1.1"/>
<path d="M490.10 304.94H492.90L491.50 306.44Z" fill="#3a3a3a"/>
<line x1="366.90" y1="273.50" x2="390.80" y2="273.50" stroke="#444" stroke-width="1.0"/>
<text x="369.80" y="271.70" font-size="5.2" textLength="18.10" lengthAdjust="spacingAndGlyphs" fill="#333" >P &lt; 0.05</text>
<line x1="378.10" y1="282.50" x2="390.80" y2="282.50" stroke="#444" stroke-width="1.0"/>
<text x="373.90" y="281.00" font-size="5.2" textLength="20.10" lengthAdjust="spacingAndGlyphs" fill="#333" >P &lt; 0.001</text>
<line x1="366.10" y1="321.50" x2="378.50" y2="321.50" stroke="#444" stroke-width="1.0"/>
<text x="362.80" y="320.00" font-size="5.2" textLength="18.40" lengthAdjust="spacingAndGlyphs" fill="#333" >P &lt; 0.05</text>
<line x1="416.90" y1="268.50" x2="440.80" y2="268.50" stroke="#444" stroke-width="1.0"/>
<text x="419.30" y="267.20" font-size="5.2" textLength="18.60" lengthAdjust="spacingAndGlyphs" fill="#333" >P &lt; 0.05</text>
<line x1="429.10" y1="276.50" x2="440.80" y2="276.50" stroke="#444" stroke-width="1.0"/>
<text x="433.10" y="275.10" font-size="5.2" textLength="4.80" lengthAdjust="spacingAndGlyphs" fill="#333" >ns</text>
<line x1="466.90" y1="302.50" x2="491.10" y2="302.50" stroke="#444" stroke-width="1.0"/>
<text x="476.30" y="301.40" font-size="5.2" textLength="5.40" lengthAdjust="spacingAndGlyphs" fill="#333" >ns</text>
<line x1="466.90" y1="312.50" x2="479.10" y2="312.50" stroke="#444" stroke-width="1.0"/>
<text x="471.00" y="311.20" font-size="5.2" textLength="4.90" lengthAdjust="spacingAndGlyphs" fill="#333" >ns</text>
<text x="366.70" y="358.80" font-size="5.3" text-anchor="end" transform="rotate(-45 366.70 358.80)" >Start arm</text>
<text x="378.80" y="358.80" font-size="5.3" text-anchor="end" transform="rotate(-45 378.80 358.80)" >Familiar arm</text>
<text x="391.10" y="358.80" font-size="5.3" text-anchor="end" transform="rotate(-45 391.10 358.80)" >Novel arm</text>
<text x="416.70" y="358.80" font-size="5.3" text-anchor="end" transform="rotate(-45 416.70 358.80)" >Start arm</text>
<text x="429.00" y="358.80" font-size="5.3" text-anchor="end" transform="rotate(-45 429.00 358.80)" >Familiar arm</text>
<text x="441.10" y="358.80" font-size="5.3" text-anchor="end" transform="rotate(-45 441.10 358.80)" >Novel arm</text>
<text x="467.30" y="358.80" font-size="5.3" text-anchor="end" transform="rotate(-45 467.30 358.80)" >Start arm</text>
<text x="479.50" y="358.80" font-size="5.3" text-anchor="end" transform="rotate(-45 479.50 358.80)" >Familiar arm</text>
<text x="491.80" y="358.80" font-size="5.3" text-anchor="end" transform="rotate(-45 491.80 358.80)" >Novel arm</text>
<rect x="460.00" y="264.80" width="7.70" height="6.90" fill="#78a85a" stroke="#5e983e" stroke-width="0.8"/>
<text x="471.70" y="270.10" font-size="7.0" textLength="9.80" lengthAdjust="spacingAndGlyphs" fill="#1a1a1a" >Efl1</text>
<text x="483.00" y="267.20" font-size="4.4" textLength="6.30" lengthAdjust="spacingAndGlyphs" fill="#3a3a3a" >+/+</text>
<rect x="460.00" y="276.00" width="7.70" height="6.60" fill="#4f6382" stroke="#3b5274" stroke-width="0.8"/>
<text x="471.70" y="281.00" font-size="7.0" textLength="9.80" lengthAdjust="spacingAndGlyphs" fill="#1a1a1a" >Efl1</text>
<text x="483.00" y="277.90" font-size="4.4" textLength="16.00" lengthAdjust="spacingAndGlyphs" fill="#3a3a3a" >K363R/+</text>
<rect x="460.00" y="286.20" width="7.70" height="6.60" fill="#a23846" stroke="#8e1f33" stroke-width="0.8"/>
<text x="471.70" y="291.50" font-size="7.0" textLength="9.80" lengthAdjust="spacingAndGlyphs" fill="#1a1a1a" >Efl1</text>
<text x="483.00" y="287.80" font-size="4.4" textLength="26.00" lengthAdjust="spacingAndGlyphs" fill="#3a3a3a" >K363R/K363R</text>
</svg>
<div class="b" style="left:0;top:0;width:520px;height:1px;background:#000"></div>
<div class="b" style="left:0;top:0;width:1px;height:389px;background:#000"></div>
<div class="b" style="left:518px;top:0;width:1px;height:389px;background:#8a8a8a"></div>
<div class="b" style="left:519px;top:0;width:1px;height:389px;background:#444"></div>
<div class="b" style="left:0;top:387px;width:518px;height:1px;background:#c8c8c8"></div>
<div class="b" style="left:0;top:388px;width:520px;height:1px;background:#000"></div>
</body></html>
